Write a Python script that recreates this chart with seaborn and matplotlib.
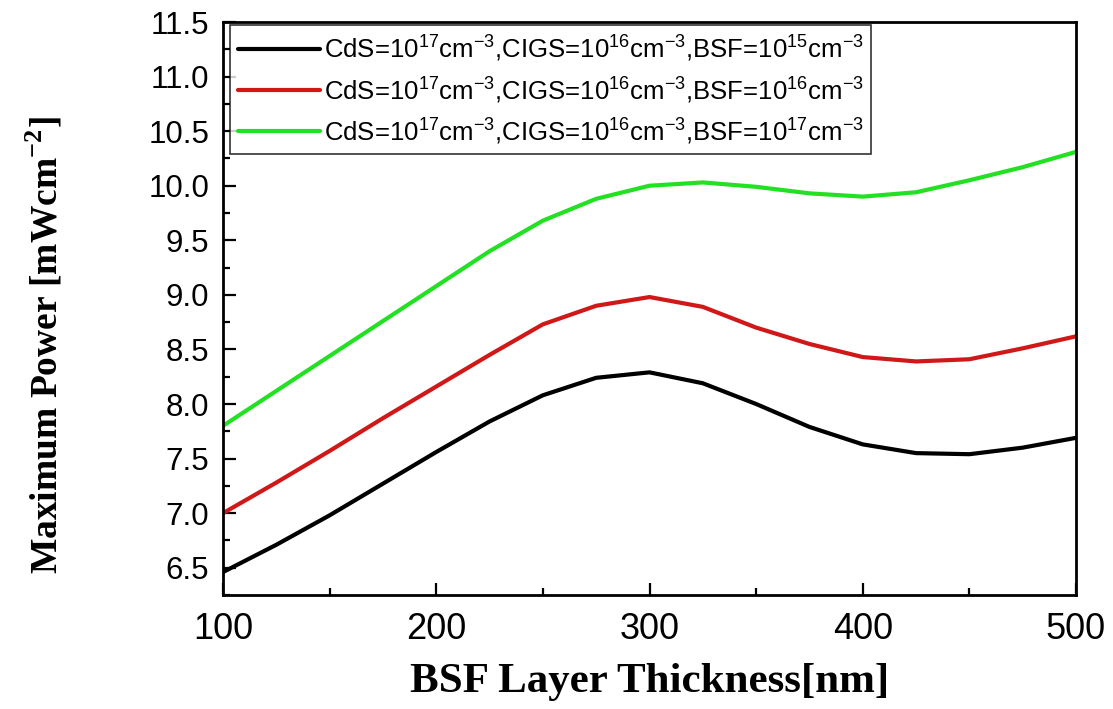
import numpy as np
import pandas as pd
import matplotlib
matplotlib.use("Agg")
import matplotlib.pyplot as plt
import seaborn as sns
from matplotlib.ticker import MultipleLocator

# ---- data ----
thickness = [100, 125, 150, 175, 200, 225, 250, 275, 300, 325, 350, 375, 400, 425, 450, 475, 500]
bsf_1e15 = [6.46, 6.71, 6.98, 7.27, 7.56, 7.84, 8.08, 8.24, 8.29, 8.19, 8.00, 7.79, 7.63, 7.55, 7.54, 7.60, 7.69]
bsf_1e16 = [7.00, 7.28, 7.57, 7.87, 8.16, 8.45, 8.73, 8.90, 8.98, 8.89, 8.70, 8.55, 8.43, 8.39, 8.41, 8.51, 8.62]
bsf_1e17 = [7.80, 8.12, 8.44, 8.76, 9.08, 9.40, 9.68, 9.88, 10.00, 10.03, 9.99, 9.93, 9.90, 9.94, 10.05, 10.17, 10.31]

labels = [
    r"CdS=10$^{\mathregular{17}}$cm$^{\mathregular{-3}}$,CIGS=10$^{\mathregular{16}}$cm$^{\mathregular{-3}}$,BSF=10$^{\mathregular{15}}$cm$^{\mathregular{-3}}$",
    r"CdS=10$^{\mathregular{17}}$cm$^{\mathregular{-3}}$,CIGS=10$^{\mathregular{16}}$cm$^{\mathregular{-3}}$,BSF=10$^{\mathregular{16}}$cm$^{\mathregular{-3}}$",
    r"CdS=10$^{\mathregular{17}}$cm$^{\mathregular{-3}}$,CIGS=10$^{\mathregular{16}}$cm$^{\mathregular{-3}}$,BSF=10$^{\mathregular{17}}$cm$^{\mathregular{-3}}$",
]
colors = ["#000000", "#d01818", "#22e022"]
x_ticks = [100, 200, 300, 400, 500]
y_ticks = [6.5, 7.0, 7.5, 8.0, 8.5, 9.0, 9.5, 10.0, 10.5, 11.0, 11.5]

rows = []
for lab, vals in zip(labels, [bsf_1e15, bsf_1e16, bsf_1e17]):
    for t, v in zip(thickness, vals):
        rows.append({"t": t, "p": v, "series": lab})
df = pd.DataFrame(rows)

sns.set_style("ticks")
plt.rcParams["font.family"] = ["Liberation Sans", "DejaVu Sans"]
plt.rcParams["mathtext.fontset"] = "custom"
plt.rcParams["mathtext.rm"] = "Liberation Sans"
plt.rcParams["text.color"] = "black"
plt.rcParams["axes.labelcolor"] = "black"
plt.rcParams["xtick.color"] = "black"
plt.rcParams["ytick.color"] = "black"

fig = plt.figure(figsize=(11.13, 7.09), dpi=100)
ax = fig.add_axes([223 / 1113, 1 - 595 / 709, (1076 - 223) / 1113, (595 - 22) / 709])

sns.lineplot(data=df, x="t", y="p", hue="series", hue_order=labels,
             palette=dict(zip(labels, colors)), linewidth=3, ax=ax, legend=False)

ax.set_xlim(100, 500)
ax.set_ylim(6.25, 11.5)
ax.set_xticks(x_ticks)
ax.set_yticks(y_ticks)
ax.xaxis.set_minor_locator(MultipleLocator(50))
ax.yaxis.set_minor_locator(MultipleLocator(0.25))
ax.set_xticklabels([str(v) for v in x_ticks], fontsize=26, family=["Liberation Sans"], color="black")
ax.set_yticklabels([f"{v:.1f}" for v in y_ticks], fontsize=22.5, family=["Liberation Sans"], color="black")
ax.tick_params(axis="x", which="major", pad=12)
ax.tick_params(axis="y", which="major", pad=10)
ax.tick_params(which="major", direction="in", length=9, width=1.6, colors="black")
ax.tick_params(which="minor", direction="in", length=5, width=1.6, colors="black")
for s in ax.spines.values():
    s.set_linewidth(2)
    s.set_color("black")

ax.set_xlabel("BSF Layer Thickness[nm]", fontsize=31, fontweight="bold",
              family=["Liberation Serif"], color="black")
ax.xaxis.set_label_coords(0.5, -(682 - 595) / 573)
ax.xaxis.label.set_va("center")
ax.set_ylabel(r"Maximum Power [mWcm$^{\mathregular{-2}}$]", fontsize=27, fontweight="bold",
              family=["Liberation Serif"], color="black")
ax.yaxis.set_label_coords((45 - 223) / 853, (595 - 345) / 573)
ax.yaxis.label.set_va("center")

handles = [plt.Line2D([], [], color=c, linewidth=3) for c in colors]
leg = ax.legend(handles, labels, loc="upper left", bbox_to_anchor=(0.008, 0.995),
                fontsize=18.5, frameon=True, fancybox=False, edgecolor="black",
                handlelength=3.2, handletextpad=0.15, borderpad=0.3, labelspacing=0.4,
                borderaxespad=0)
leg.get_frame().set_linewidth(1.2)
for t in leg.get_texts():
    t.set_color("black")

fig.savefig("out.png", dpi=100, facecolor="white")
